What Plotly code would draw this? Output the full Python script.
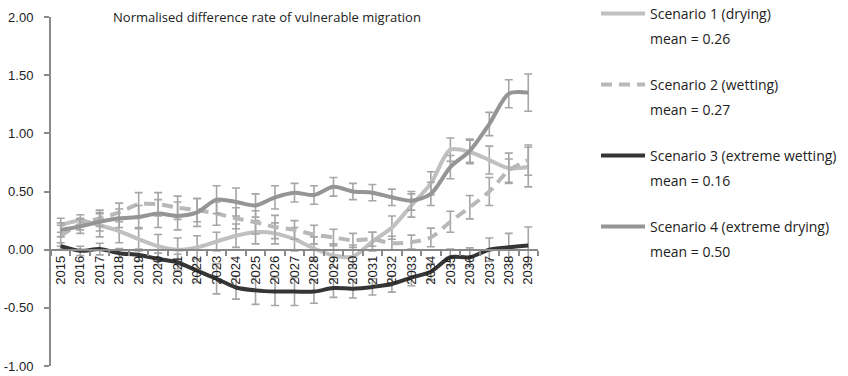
import plotly.graph_objects as go

years = ["2015", "2016", "2017", "2018", "2019", "2020", "2021", "2022", "2023", "2024",
         "2025", "2026", "2027", "2028", "2029", "2030", "2031", "2032", "2033", "2034",
         "2035", "2036", "2037", "2038", "2039"]

s1_drying = [0.21, 0.25, 0.21, 0.16, 0.09, 0.03, 0.00, 0.02, 0.07, 0.12,
             0.15, 0.14, 0.09, 0.01, -0.05, -0.06, 0.07, 0.19, 0.38, 0.57,
             0.86, 0.84, 0.77, 0.70, 0.71]
s1_err = [0.06, 0.05, 0.10, 0.10, 0.10, 0.10, 0.10, 0.10, 0.08, 0.10,
          0.10, 0.09, 0.10, 0.10, 0.10, 0.10, 0.08, 0.10, 0.10, 0.10,
          0.10, 0.10, 0.12, 0.13, 0.17]

s2_wetting = [0.12, 0.22, 0.27, 0.32, 0.39, 0.39, 0.36, 0.34, 0.31, 0.27,
              0.235, 0.195, 0.17, 0.13, 0.105, 0.08, 0.09, 0.055, 0.065, 0.105,
              0.24, 0.365, 0.50, 0.68, 0.77]
s2_err = [0.09, 0.05, 0.07, 0.08, 0.10, 0.10, 0.10, 0.10, 0.10, 0.09,
          0.10, 0.10, 0.08, 0.08, 0.07, 0.06, 0.06, 0.06, 0.06, 0.08,
          0.09, 0.10, 0.12, 0.10, 0.13]

s3_ext_wetting = [0.03, -0.01, 0.005, -0.03, -0.045, -0.08, -0.11, -0.18, -0.25, -0.325,
                  -0.35, -0.36, -0.36, -0.36, -0.33, -0.335, -0.32, -0.295, -0.24, -0.19,
                  -0.065, -0.065, 0.0, 0.02, 0.035]
s3_err = [0.03, 0.04, 0.05, 0.04, 0.05, 0.05, 0.07, 0.10, 0.13, 0.10,
          0.12, 0.12, 0.12, 0.10, 0.08, 0.08, 0.07, 0.07, 0.07, 0.07,
          0.07, 0.08, 0.10, 0.12, 0.16]

s4_ext_drying = [0.17, 0.20, 0.24, 0.27, 0.28, 0.31, 0.29, 0.32, 0.43, 0.41,
                 0.38, 0.45, 0.49, 0.47, 0.54, 0.50, 0.49, 0.45, 0.42, 0.48,
                 0.71, 0.85, 1.08, 1.34, 1.35]
s4_err = [0.06, 0.06, 0.08, 0.08, 0.10, 0.12, 0.12, 0.12, 0.12, 0.12,
          0.10, 0.10, 0.08, 0.08, 0.08, 0.07, 0.07, 0.07, 0.08, 0.10,
          0.10, 0.10, 0.10, 0.12, 0.16]

names = ["Scenario 1 (drying)", "Scenario 2 (wetting)",
         "Scenario 3 (extreme wetting)", "Scenario 4 (extreme drying)"]
means = ["mean = 0.26", "mean = 0.27", "mean = 0.16", "mean = 0.50"]

y_tickvals = [-1.0, -0.5, 0.0, 0.5, 1.0, 1.5, 2.0]
y_ticktext = ["-1.00", "-0.50", "0.00", "0.50", "1.00", "1.50", "2.00"]

title_text = "Normalised difference rate of vulnerable migration"

series = [
    (s1_drying, s1_err, "#c0c0c0", "solid"),
    (s2_wetting, s2_err, "#b8b8b8", "11px,7px"),
    (s3_ext_wetting, s3_err, "#353535", "solid"),
    (s4_ext_drying, s4_err, "#959595", "solid"),
]

ERR_COLOR = "#a6a6a6"
FONT = "Open Sans"
TICK_FONT = "Liberation Sans"

fig = go.Figure()

for i, (vals, err, col, dash) in enumerate(series):
    fig.add_trace(go.Scatter(
        x=years, y=vals, mode="lines", name=names[i],
        line=dict(color=col, width=4, dash=dash, shape="spline", smoothing=0.8),
        error_y=dict(type="data", array=err, visible=True, color=ERR_COLOR,
                     thickness=1.6, width=4),
        legend="legend" if i == 0 else f"legend{2 * i + 1}",
        showlegend=True,
    ))
    fig.add_trace(go.Scatter(
        x=[None], y=[None], mode="lines", name=means[i],
        line=dict(color="rgba(0,0,0,0)", width=0),
        legend=f"legend{2 * i + 2}", showlegend=True, hoverinfo="skip",
    ))

layout_legends = {}
entry_y = [14, 85, 156, 227]
for i in range(4):
    for j, ypx in enumerate([entry_y[i], entry_y[i] + 25]):
        idx = 2 * i + j + 1
        key = "legend" if idx == 1 else f"legend{idx}"
        layout_legends[key] = dict(
            x=596 / 848, xref="container", xanchor="left",
            y=1 - ypx / 376, yref="container", yanchor="middle",
            bgcolor="rgba(0,0,0,0)", borderwidth=0, itemwidth=44,
            font=dict(family=FONT, size=14, color="#222222"),
        )

fig.update_layout(
    width=848, height=376, autosize=False,
    margin=dict(l=51, r=310, t=17, b=10, pad=0, autoexpand=False),
    paper_bgcolor="white", plot_bgcolor="white",
    title=dict(text=title_text, x=267 / 848, xref="container", xanchor="center",
               y=1 - 17 / 376, yref="container", yanchor="middle",
               font=dict(family=FONT, size=13, color="#222222")),
    xaxis=dict(type="category", categoryorder="array", categoryarray=years,
               range=[-0.5, 24.5], anchor="free", position=1 / 3, automargin=False,
               showline=True, linecolor="#8a8a8a", linewidth=2,
               ticks="outside", tickson="boundaries", ticklen=5, tickwidth=1.5,
               tickcolor="#8a8a8a", tickangle=-90, showgrid=False, zeroline=False,
               tickfont=dict(family=TICK_FONT, size=13, color="#222222")),
    yaxis=dict(range=[-1, 2], tickvals=y_tickvals, ticktext=y_ticktext, automargin=False,
               showline=True, linecolor="#8a8a8a", linewidth=2,
               ticks="outside", ticklen=5, tickwidth=1.5, tickcolor="#8a8a8a",
               showgrid=False, zeroline=False, ticklabelstandoff=8,
               tickfont=dict(family=TICK_FONT, size=13, color="#222222")),
    **layout_legends,
)

fig.write_html("out.html")
